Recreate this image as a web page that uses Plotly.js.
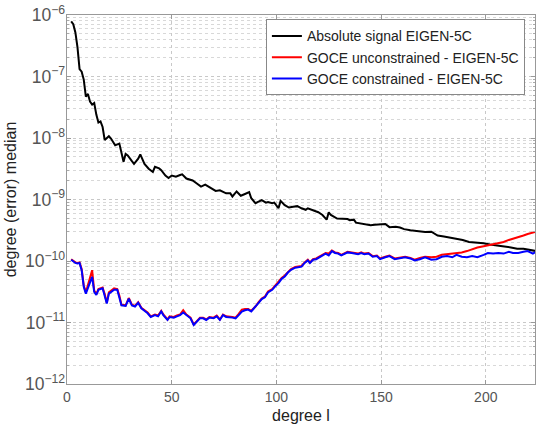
<!DOCTYPE html>
<html>
<head>
<meta charset="utf-8">
<script src="https://cdn.plot.ly/plotly-3.0.1.min.js"></script>
<style>html,body{margin:0;padding:0;background:#fff;}#chart{width:536px;height:429px;}</style>
</head>
<body>
<div id="chart"></div>
<script>
// Degrees (x) for the absolute signal curve
const degreeSignal = [2,3,4,5,6,7,8,9,10,11,12,13,14,15,16,17,18,20,21,23,25,26,27,28,29,31,32,34,35,37,39,41,42,44,45,47,48.5,50,52,54,55,57,59,60,62,64,66,68,71,73,75,76,78,79,81,83,85,87,88,90,91,93,95,96,98,99,101,102,104,106,108,110,112,114,115,118,120,122,124,125,126,129,131,134,135,137,138,141,143,145,147,150,152,154,157,159,161,164,167,169,171,174,177,180,183,186,189,192,196,199,202,205,208,212,215,218,221,224];
const absoluteSignal = [7.9e-7,7.1e-7,5.2e-7,3.0e-7,1.32e-7,1.2e-7,8.9e-8,4.7e-8,5.2e-8,3.9e-8,3.5e-8,3.7e-8,2.4e-8,1.78e-8,1.86e-8,1.51e-8,9.3e-9,1.07e-8,9.8e-9,7.6e-9,8.1e-9,6.0e-9,4.1e-9,5.5e-9,5.2e-9,4.2e-9,3.8e-9,4.6e-9,5.4e-9,3.8e-9,3.16e-9,2.8e-9,3.4e-9,3.2e-9,3.0e-9,2.45e-9,2.24e-9,2.45e-9,2.34e-9,2.5e-9,2.57e-9,2.19e-9,2.09e-9,2.04e-9,1.82e-9,1.62e-9,1.74e-9,1.58e-9,1.38e-9,1.41e-9,1.32e-9,1.26e-9,1.26e-9,1.12e-9,1.35e-9,1.15e-9,1.23e-9,1.32e-9,1.05e-9,8.7e-10,9.1e-10,9.8e-10,8.9e-10,9.1e-10,8.7e-10,8.9e-10,7.2e-10,9.5e-10,8.1e-10,7.4e-10,7.6e-10,7.8e-10,7.2e-10,6.8e-10,7.2e-10,6.6e-10,6.2e-10,5.6e-10,4.7e-10,6.2e-10,5.6e-10,4.9e-10,4.9e-10,4.8e-10,4.6e-10,4.7e-10,4.2e-10,4.0e-10,3.9e-10,3.8e-10,3.9e-10,3.9e-10,4.0e-10,3.55e-10,3.6e-10,3.5e-10,3.3e-10,3.16e-10,3.1e-10,3.0e-10,2.95e-10,3.0e-10,2.6e-10,2.5e-10,2.4e-10,2.34e-10,2.19e-10,2.04e-10,2.0e-10,1.95e-10,1.86e-10,1.82e-10,1.74e-10,1.66e-10,1.58e-10,1.58e-10,1.51e-10,1.45e-10];

// Degrees (x) for the two GOCE difference curves
const degreeGoce = [2,3,4,5,6,7,8,9,10,11,12,13,14,15,17,18,19,20,21.5,22.5,24,25,26,28,29.5,31,32.5,34,35.5,37,38.5,40,42,43.5,45,46,48,49,51,52.5,54,55.5,57,59,60.5,62,63.5,65,66.5,68,70,71.5,73,74.5,76,79,80.5,82,83.5,85,86.5,88,90,91.5,93,94.5,96,98,99.5,101,102.5,104,105.5,107,109,110.5,112,113.5,115,116,117.5,119,121,122.5,123.5,125,126.5,128,129.5,131,132.5,134,136,137.5,139,140.5,142,144,146,148,149.5,152,154,156.5,159,161.5,164,166,168.5,171,174,176.5,179,181.5,184,186,188.5,191,193.5,196,199,201,203.5,206,208.5,211,213,215.5,218,220,222.5,224];
const goceUnconstrained = [1.07e-10,1.0e-10,9.5e-11,9.3e-11,9.5e-11,7.4e-11,4.0e-11,3.1e-11,4.0e-11,5.2e-11,7.1e-11,3.3e-11,2.9e-11,3.5e-11,3.7e-11,2.9e-11,2.1e-11,3.1e-11,3.4e-11,3.6e-11,3.5e-11,2.75e-11,1.95e-11,1.9e-11,2.5e-11,1.95e-11,1.86e-11,2.14e-11,1.74e-11,1.6e-11,1.45e-11,1.26e-11,1.35e-11,1.3e-11,1.55e-11,1.35e-11,1.12e-11,1.26e-11,1.23e-11,1.3e-11,1.35e-11,1.58e-11,1.35e-11,1.2e-11,9.3e-12,1.05e-11,1.2e-11,1.2e-11,1.12e-11,1.23e-11,1.2e-11,1.3e-11,1.12e-11,1.35e-11,1.26e-11,1.23e-11,1.2e-11,1.38e-11,1.62e-11,1.66e-11,1.66e-11,1.55e-11,1.82e-11,2.14e-11,2.45e-11,2.63e-11,3.2e-11,3.5e-11,4.0e-11,4.5e-11,5.3e-11,5.8e-11,6.6e-11,7.4e-11,8.0e-11,8.1e-11,8.3e-11,9.5e-11,1.05e-10,9.5e-11,1.07e-10,1.1e-10,1.2e-10,1.29e-10,1.35e-10,1.32e-10,1.48e-10,1.38e-10,1.35e-10,1.26e-10,1.35e-10,1.41e-10,1.38e-10,1.35e-10,1.32e-10,1.38e-10,1.32e-10,1.35e-10,1.2e-10,1.23e-10,1.1e-10,1.17e-10,1.23e-10,1.1e-10,1.12e-10,1.17e-10,1.12e-10,1.05e-10,1.12e-10,1.17e-10,1.15e-10,1.17e-10,1.26e-10,1.29e-10,1.29e-10,1.35e-10,1.38e-10,1.45e-10,1.55e-10,1.66e-10,1.74e-10,1.8e-10,1.9e-10,1.95e-10,2.04e-10,2.2e-10,2.3e-10,2.4e-10,2.6e-10,2.75e-10,2.9e-10,3.0e-10];
const goceConstrained = [1.05e-10,9.8e-11,9.3e-11,9.1e-11,9.3e-11,7.1e-11,3.8e-11,2.95e-11,3.8e-11,4.5e-11,5.5e-11,3.16e-11,2.8e-11,3.4e-11,3.6e-11,2.8e-11,2.04e-11,2.95e-11,3.16e-11,3.4e-11,3.4e-11,2.63e-11,1.9e-11,1.86e-11,2.45e-11,1.9e-11,1.82e-11,2.09e-11,1.7e-11,1.55e-11,1.41e-11,1.23e-11,1.32e-11,1.26e-11,1.51e-11,1.32e-11,1.1e-11,1.23e-11,1.2e-11,1.26e-11,1.32e-11,1.45e-11,1.32e-11,1.17e-11,9.1e-12,1.02e-11,1.17e-11,1.17e-11,1.1e-11,1.2e-11,1.17e-11,1.26e-11,1.1e-11,1.32e-11,1.23e-11,1.2e-11,1.17e-11,1.32e-11,1.51e-11,1.58e-11,1.62e-11,1.51e-11,1.78e-11,2.09e-11,2.4e-11,2.57e-11,3.09e-11,3.4e-11,3.9e-11,4.37e-11,5.13e-11,5.6e-11,6.5e-11,7.2e-11,7.8e-11,7.9e-11,8.1e-11,9.3e-11,1.02e-10,9.3e-11,1.05e-10,1.07e-10,1.17e-10,1.26e-10,1.32e-10,1.23e-10,1.45e-10,1.35e-10,1.32e-10,1.23e-10,1.32e-10,1.38e-10,1.35e-10,1.32e-10,1.29e-10,1.35e-10,1.29e-10,1.32e-10,1.17e-10,1.2e-10,1.07e-10,1.15e-10,1.2e-10,1.07e-10,1.1e-10,1.15e-10,1.1e-10,1.02e-10,1.07e-10,1.15e-10,1.05e-10,1.07e-10,1.17e-10,1.2e-10,1.15e-10,1.26e-10,1.17e-10,1.15e-10,1.2e-10,1.15e-10,1.26e-10,1.35e-10,1.32e-10,1.35e-10,1.32e-10,1.41e-10,1.35e-10,1.35e-10,1.41e-10,1.45e-10,1.32e-10,1.41e-10];

const seriesNames = ["Absolute signal EIGEN-5C", "GOCE unconstrained - EIGEN-5C", "GOCE constrained - EIGEN-5C"];
const xTitle = "degree l";
const yTitle = "degree (error) median";

const font = "Liberation Sans, Arial, Helvetica, sans-serif";

const traces = [
  {x: degreeSignal, y: absoluteSignal, name: seriesNames[0], mode: "lines", line: {color: "#000000", width: 2}},
  {x: degreeGoce, y: goceUnconstrained, name: seriesNames[1], mode: "lines", line: {color: "#ff0000", width: 2}},
  {x: degreeGoce, y: goceConstrained, name: seriesNames[2], mode: "lines", line: {color: "#0000ff", width: 2}}
];

const gridCol = "#c8c8c8";
const layout = {
  width: 536, height: 429,
  margin: {l: 67, r: 1, t: 15, b: 45},
  paper_bgcolor: "#ffffff", plot_bgcolor: "#ffffff",
  font: {family: font, size: 13, color: "#222"},
  showlegend: true,
  legend: {x: 0.425, y: 0.988, xanchor: "left", yanchor: "top", bgcolor: "#ffffff",
           bordercolor: "#888", borderwidth: 1, font: {family: font, size: 14, color: "#222"},
           tracegroupgap: 0, itemwidth: 30},
  xaxis: {
    range: [0, 223.5], tickvals: [0, 50, 100, 150, 200], ticktext: ["0","50","100","150","200"],
    showgrid: true, gridcolor: gridCol, griddash: "dot", gridwidth: 1,
    showline: true, linecolor: "#999", linewidth: 1, mirror: "ticks",
    ticks: "inside", ticklen: 4, tickcolor: "#999",
    zeroline: false,
    tickfont: {family: font, size: 14, color: "#555"},
    title: {text: xTitle, font: {family: font, size: 16, color: "#222"}, standoff: 6}
  },
  yaxis: {
    type: "log", range: [-12, -6], dtick: 1, exponentformat: "power",
    showgrid: true, gridcolor: gridCol, griddash: "dot", gridwidth: 1,
    minor: {showgrid: true, gridcolor: "#d8d8d8", griddash: "dot", ticks: "inside", ticklen: 2, tickcolor: "#aaa"},
    showline: true, linecolor: "#999", linewidth: 1, mirror: "ticks",
    ticks: "inside", ticklen: 4, tickcolor: "#999",
    zeroline: false, ticklabelstandoff: -2,
    tickfont: {family: font, size: 14, color: "#555"},
    title: {text: yTitle, font: {family: font, size: 16, color: "#222"}, standoff: 4}
  }
};

Plotly.newPlot("chart", traces, layout, {staticPlot: true, displayModeBar: false});
</script>
</body>
</html>
